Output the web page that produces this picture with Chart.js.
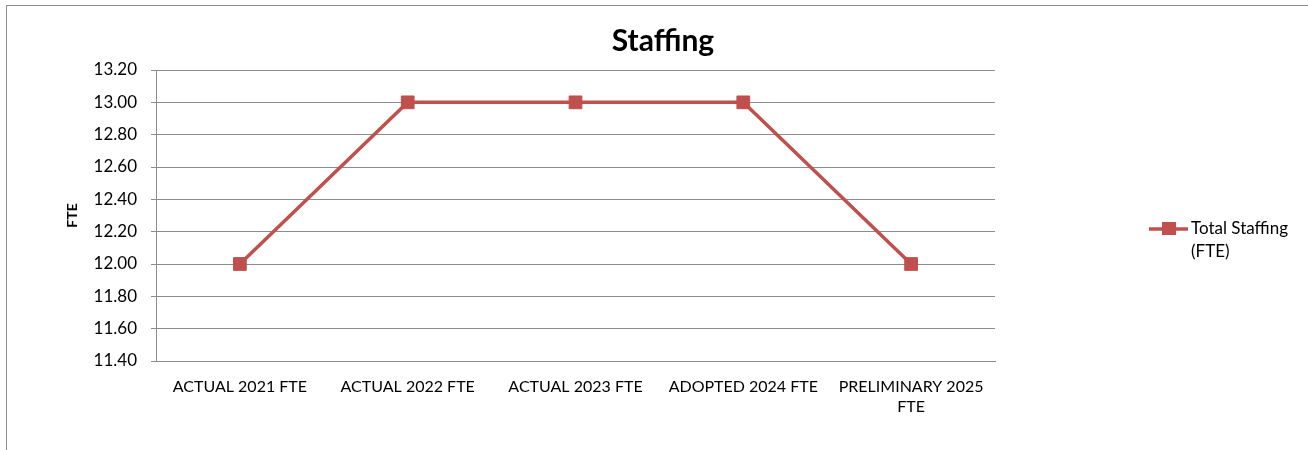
<!DOCTYPE html>
<html>
<head>
<meta charset="utf-8">
<script src="https://cdn.jsdelivr.net/npm/chart.js@4"></script>
<style>
    html, body { margin: 0; padding: 0; background: #fff; }
    #wrap { position: relative; width: 1308px; height: 450px; overflow: hidden; }
    #frame { position: absolute; left: 6px; top: 5px; width: 1400px; height: 500px; border-left: 1px solid #8c8c8c; border-top: 1px solid #8c8c8c; }
    canvas { position: absolute; left: 0; top: 0; }
</style>
</head>
<body>
<div id="wrap">
    <div id="frame"></div>
    <canvas id="staffingChart" width="1308" height="450"></canvas>
</div>
<script>
// Staffing chart data
const categories = ['ACTUAL 2021 FTE', 'ACTUAL 2022 FTE', 'ACTUAL 2023 FTE', 'ADOPTED 2024 FTE', ['PRELIMINARY 2025', 'FTE']];
const staffingValues = [12.00, 13.00, 13.00, 13.00, 12.00];
const seriesLabel = ['Total Staffing', '(FTE)'];
const yMin = 11.40;
const yMax = 13.20;
const yStep = 0.20;

const lineColor = '#C0504D';
const gridColor = '#8c8c8c';
const fontFamily = 'Lato, "Open Sans", "Liberation Sans", sans-serif';

// custom legend so the label wraps onto two lines like the original
const wrappedLegend = {
    id: 'wrappedLegend',
    afterDraw(chart) {
        const ctx = chart.ctx;
        const ds = chart.data.datasets[0];
        const x = chart.chartArea.right + 154;
        const y = 229;
        ctx.save();
        ctx.strokeStyle = ds.borderColor;
        ctx.lineWidth = 3.5;
        ctx.beginPath();
        ctx.moveTo(x, y);
        ctx.lineTo(x + 39, y);
        ctx.stroke();
        ctx.fillStyle = ds.backgroundColor;
        ctx.fillRect(x + 13, y - 7, 14, 13);
        ctx.fillStyle = '#000';
        ctx.font = '17px ' + fontFamily;
        ctx.textBaseline = 'middle';
        ctx.textAlign = 'left';
        seriesLabel.forEach((t, i) => ctx.fillText(t, x + 42, y + i * 23));
        ctx.restore();
    }
};

new Chart(document.getElementById('staffingChart'), {
    type: 'line',
    data: {
        labels: categories,
        datasets: [{
            label: seriesLabel.join(' '),
            data: staffingValues,
            borderColor: lineColor,
            backgroundColor: lineColor,
            borderWidth: 3.5,
            pointStyle: 'rect',
            pointRadius: 9,
            pointBorderWidth: 1,
            pointBackgroundColor: lineColor,
            pointBorderColor: lineColor,
            tension: 0
        }]
    },
    options: {
        responsive: false,
        animation: false,
        layout: { padding: { left: 18, right: 0, top: 0, bottom: 0 } },
        plugins: {
            legend: { display: false },
            tooltip: { enabled: false },
            title: {
                display: true,
                text: 'Staffing',
                color: '#000',
                font: { family: fontFamily, size: 30, weight: 'bold' },
                padding: { top: 23, bottom: 11 }
            }
        },
        scales: {
            x: {
                offset: true,
                grid: { display: false },
                border: { display: true, color: gridColor, width: 1 },
                ticks: {
                    color: '#000',
                    font: { family: fontFamily, size: 16, lineHeight: 1.25 },
                    maxRotation: 0,
                    autoSkip: false,
                    padding: 8
                },
                afterFit: s => { s.height = 89; }
            },
            y: {
                min: yMin,
                max: yMax,
                grid: { color: gridColor, lineWidth: 1, tickLength: 5 },
                border: { display: true, color: gridColor, width: 1 },
                ticks: {
                    stepSize: yStep,
                    color: '#000',
                    font: { family: fontFamily, size: 17 },
                    padding: 14,
                    callback: v => Number(v).toFixed(2)
                },
                title: {
                    display: true,
                    text: 'FTE',
                    color: '#000',
                    font: { family: fontFamily, size: 14, weight: 'bold' },
                    padding: { top: 46, bottom: 0 }
                },
                afterFit: s => { s.width = 138; }
            },
            // empty right-hand space that holds the legend
            legendSpace: {
                type: 'linear',
                position: 'right',
                grid: { display: false },
                border: { display: false },
                ticks: { display: false },
                afterFit: s => { s.width = 313; }
            }
        }
    },
    plugins: [wrappedLegend]
});
</script>
</body>
</html>
